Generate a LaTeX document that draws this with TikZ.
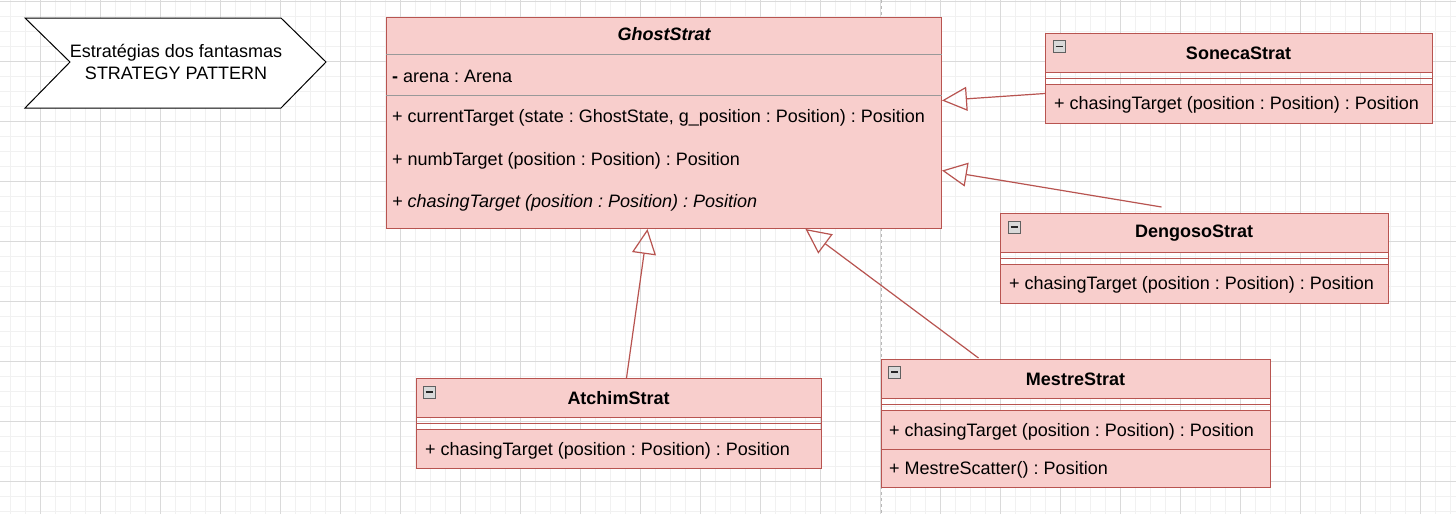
\documentclass[tikz,border=0pt]{standalone}
\usepackage{fontspec}
\setmainfont{Liberation Sans}
\usetikzlibrary{arrows.meta,calc,positioning}
\definecolor{stratfill}{HTML}{F8CECC}
\definecolor{stratline}{HTML}{B85450}
\definecolor{sepgray}{HTML}{999999}
\definecolor{gridmajor}{HTML}{DADADA}
\definecolor{gridminor}{HTML}{F1F1F1}
\frenchspacing

\begin{document}
\begin{tikzpicture}[x=1pt,y=-1pt,
    every node/.style={font=\fontsize{18}{22}\selectfont},
    stratbox/.style={draw=stratline, line width=1pt, inner sep=0pt, anchor=north west},
    member/.style={anchor=west, inner sep=0pt},
    classname/.style={font=\fontsize{18}{22}\selectfont\bfseries, inner sep=0pt},
    collapse/.style={draw=gray!75!black, fill=gray!30, minimum size=12pt, inner sep=0pt,
        path picture={\draw[line width=1.8pt, black!85] ([xshift=2.5pt]path picture bounding box.west) -- ([xshift=-2.5pt]path picture bounding box.east);}},
    sep/.style={draw=stratline, line width=1pt},
    inherit/.style={draw=stratline, line width=1.2pt, -{Triangle[open, length=25pt, width=24pt]}}]
    \useasboundingbox (0,0) rectangle (1456,514);
    \clip (0,0) rectangle (1456,514);
    % background grid
    \fill[white] (0,0) rectangle (1456,514);
    \foreach \gx in {10,25,...,1450} \draw[gridminor] (\gx,0) -- (\gx,514);
    \foreach \gy in {1,16,...,511} \draw[gridminor] (0,\gy) -- (1456,\gy);
    \foreach \gx in {40,100,...,1420} \draw[gridmajor] (\gx,0) -- (\gx,514);
    \foreach \gy in {1,61,...,481} \draw[gridmajor] (0,\gy) -- (1456,\gy);
    \draw[gray!55, dashed, line width=1pt] (881,0) -- (881,514);
    % title
    \draw[line width=1pt, fill=white] (25,18) -- (281,18) -- (326,62) -- (281,108) -- (25,108) -- (70,62) -- cycle;
    \node[align=center] (title) at (176,62) {Estratégias dos fantasmas\\STRATEGY PATTERN};
    % GhostStrat
    \node[stratbox, fill=stratfill, minimum width=555pt, minimum height=211pt] (ghost) at (386,17) {};
    \draw[sepgray, line width=1pt] ($(ghost.north west)+(0,37)$) -- ($(ghost.north east)+(0,37)$);
    \draw[sepgray, line width=1pt] ($(ghost.north west)+(0,78)$) -- ($(ghost.north east)+(0,78)$);
    \node[classname, font=\fontsize{18}{22}\selectfont\bfseries\itshape] (ghostName) at ($(ghost.north)+(0,17)$) {GhostStrat};
    \node[member] (ghostArena) at ($(ghost.north west)+(6,59)$) {\textbf{-} arena : Arena};
    \node[member] (ghostCurrent) at ($(ghost.north west)+(6,101)$) {+ currentTarget (state : GhostState, g\_position : Position) : Position};
    \node[member] (ghostNumb) at ($(ghost.north west)+(6,144)$) {+ numbTarget (position : Position) : Position};
    \node[member] (ghostChase) at ($(ghost.north west)+(6,186)$) {\itshape + chasingTarget (position : Position) : Position};
    % SonecaStrat
    \fill[stratfill] (1045,33) rectangle (1432,72);
    \fill[stratfill] (1045,84) rectangle (1432,123);
    \node[stratbox, minimum width=387pt, minimum height=90pt] (soneca) at (1045,33) {};
    \draw[sep] (1045,72) -- (1432,72) (1045,78) -- (1432,78) (1045,84) -- (1432,84);
    \node[classname] (sonecaName) at (1238.5,53) {SonecaStrat};
    \node[collapse] (sonecaIcon) at (1059,46.5) {};
    \node[member] (sonecaChase) at (1054,105) {+ chasingTarget (position : Position) : Position};
    % DengosoStrat
    \fill[stratfill] (1000,213) rectangle (1388,252);
    \fill[stratfill] (1000,264) rectangle (1388,303);
    \node[stratbox, minimum width=388pt, minimum height=90pt] (dengoso) at (1000,213) {};
    \draw[sep] (1000,252) -- (1388,252) (1000,258) -- (1388,258) (1000,264) -- (1388,264);
    \node[classname] (dengosoName) at (1194,233) {DengosoStrat};
    \node[collapse] (dengosoIcon) at (1014,227) {};
    \node[member] (dengosoChase) at (1009,285) {+ chasingTarget (position : Position) : Position};
    % AtchimStrat
    \fill[stratfill] (416,378) rectangle (821,417);
    \fill[stratfill] (416,429) rectangle (821,468);
    \node[stratbox, minimum width=405pt, minimum height=90pt] (atchim) at (416,378) {};
    \draw[sep] (416,417) -- (821,417) (416,423) -- (821,423) (416,429) -- (821,429);
    \node[classname] (atchimName) at (618.5,398) {AtchimStrat};
    \node[collapse] (atchimIcon) at (429,392) {};
    \node[member] (atchimChase) at (425,451) {+ chasingTarget (position : Position) : Position};
    % MestreStrat
    \fill[stratfill] (881,359) rectangle (1270,398);
    \fill[stratfill] (881,410) rectangle (1270,487);
    \node[stratbox, minimum width=389pt, minimum height=128pt] (mestre) at (881,359) {};
    \draw[sep] (881,398) -- (1270,398) (881,404) -- (1270,404) (881,410) -- (1270,410) (881,449) -- (1270,449);
    \node[classname] (mestreName) at (1075.5,379) {MestreStrat};
    \node[collapse] (mestreIcon) at (894.5,372) {};
    \node[member] (mestreChase) at (889,432) {+ chasingTarget (position : Position) : Position};
    \node[member] (mestreScatter) at (889,470) {+ MestreScatter() : Position};
    % generalizations
    \draw[inherit] ([yshift=-15pt]soneca.west) -- ([yshift=22.5pt]ghost.east);
    \draw[inherit] ([xshift=-33pt,yshift=6pt]dengoso.north) -- ([yshift=-47.5pt]ghost.east);
    \draw[inherit] ([xshift=7.5pt]atchim.north) -- ([xshift=-16.5pt]ghost.south);
    \draw[inherit] ([xshift=-97.5pt,yshift=1pt]mestre.north) -- ([xshift=141.5pt]ghost.south);
\end{tikzpicture}
\end{document}
